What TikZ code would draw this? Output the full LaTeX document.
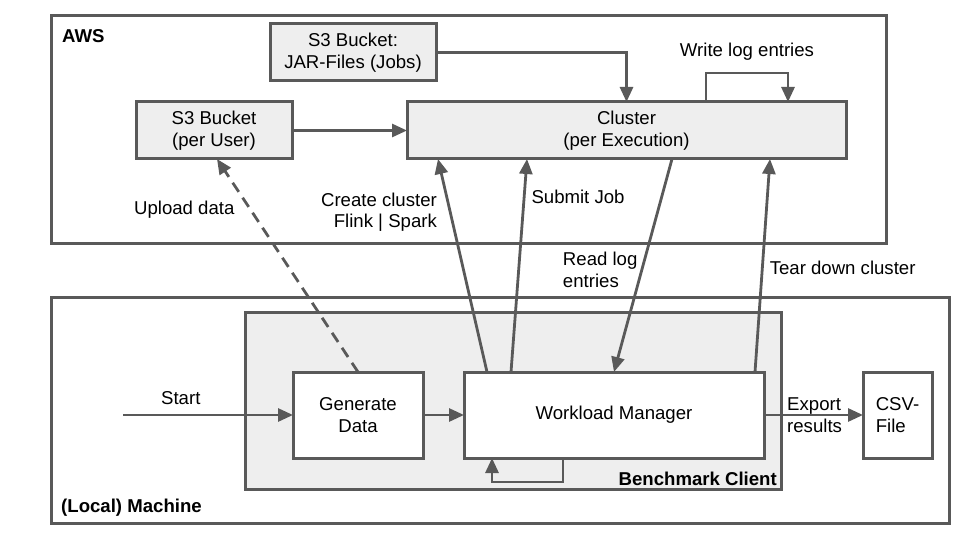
\documentclass[tikz,border=0pt]{standalone}
\usepackage{fontspec}
\setmainfont{Liberation Sans}
\usepackage{xcolor}
\usetikzlibrary{arrows.meta,positioning}
\definecolor{edgegray}{HTML}{595959}
\definecolor{boxgray}{HTML}{EEEEEE}

\begin{document}
\begin{tikzpicture}[
        x=1pt, y=-1pt, font=\fontsize{18.6}{21.5}\selectfont,
        area/.style={rectangle, draw=edgegray, line width=3pt, inner sep=0pt, outer sep=0pt},
        box/.style={rectangle, draw=edgegray, line width=3pt, align=center, inner sep=0pt, outer sep=0pt, minimum height=57pt},
        arr/.style={-{Triangle[length=15pt,width=13pt]}, draw=edgegray, line width=2.8pt},
        lbl/.style={inner sep=1pt, align=left},
        tag/.style={font=\fontsize{18.6}{21.5}\selectfont\bfseries, inner sep=0pt}
    ]
        \useasboundingbox (0,0) rectangle (960,540);
        \node[area, minimum width=835pt, minimum height=227pt] (aws) at (468.5,129.5) {};
        \node[area, minimum width=898pt, minimum height=226pt] (local) at (500,410) {};
        \node[area, fill=boxgray, minimum width=536pt, minimum height=177pt] (client) at (513,400.5) {};
        \node[tag, anchor=base west] (awstag) at ([shift={(11pt,-27pt)}]aws.north west) {AWS};
        \node[tag, anchor=base west] (localtag) at ([shift={(10pt,11pt)}]local.south west) {(Local) Machine};
        \node[tag, anchor=base east] (clienttag) at ([shift={(-4pt,4pt)}]client.south east) {Benchmark Client};
        \node[box, fill=boxgray, minimum width=156pt] (s3user) at (214,130.5) {S3 Bucket\\(per User)};
        \node[box, fill=boxgray, minimum width=439pt, right=115pt of s3user] (cluster) {Cluster\\(per Execution)};
        \node[box, fill=boxgray, minimum width=166pt] (jar) at (353,52.5) {S3 Bucket:\\JAR-Files (Jobs)};
        \node[box, fill=white, minimum width=130pt, minimum height=86pt] (gen) at (358,415) {Generate\\Data};
        \node[box, fill=white, minimum width=300pt, minimum height=86pt, right=41pt of gen] (wm) {Workload Manager};
        \node[box, fill=white, minimum width=69pt, minimum height=86pt, align=left, right=99pt of wm] (csv) {CSV-\\File};
        \coordinate[left=170pt of gen] (start);
        \draw[arr] (s3user) -- (cluster);
        \draw[arr] (jar) -| (cluster);
        \draw[arr] ([xshift=79.5pt]cluster.north) -- ++(0pt,29pt) -| node[lbl, pos=0.25, above=10pt] {Write log entries} ([xshift=161.5pt]cluster.north);
        \draw[arr, dash pattern=on 11pt off 7pt] (gen.north) -- node[lbl, pos=0.76, left=14pt] {Upload data} ([xshift=3pt]s3user.south);
        \draw[arr] ([xshift=23pt]wm.north west) -- node[lbl, align=right, pos=0.75, left=11pt] {Create cluster\\Flink | Spark} ([xshift=31pt]cluster.south west);
        \draw[arr] ([xshift=47pt]wm.north west) -- node[lbl, pos=0.82, right=5pt] {Submit Job} ([xshift=120pt]cluster.south west);
        \draw[arr] ([xshift=45.5pt]cluster.south) -- node[lbl, pos=0.52, left=2pt] {Read log\\entries} (wm.north);
        \draw[arr] ([xshift=-9pt]wm.north east) -- node[lbl, pos=0.49, right=5pt] {Tear down cluster} ([xshift=-76pt]cluster.south east);
        \draw[arr] (start) -- node[lbl, pos=0.34, above=8pt] {Start} (gen);
        \draw[arr] (gen) -- (wm);
        \draw[arr] ([xshift=-51pt]wm.south) -- ++(0pt,-24pt) -| ([xshift=28pt]wm.south west);
        \draw[arr] (wm) -- node[lbl, pos=0.21, anchor=west] {Export\\results} (csv);
    \end{tikzpicture}
\end{document}
